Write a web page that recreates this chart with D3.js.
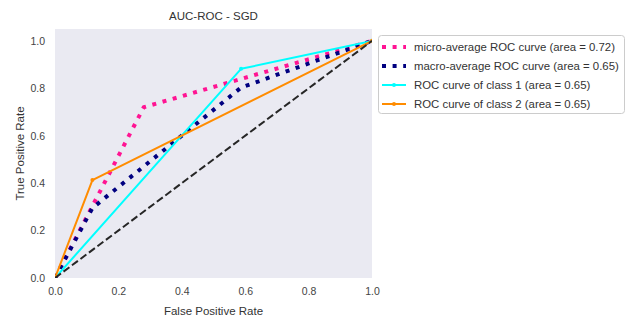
<!DOCTYPE html>
<html>
<head>
<meta charset="utf-8">
<script src="https://cdn.jsdelivr.net/npm/d3@7/dist/d3.min.js"></script>
<style>
  html, body { margin: 0; padding: 0; background: #fff; }
  svg { display: block; font-family: "Liberation Sans", Arial, sans-serif; }
</style>
</head>
<body>
<svg id="chart" width="627" height="321"></svg>
<script>
// ROC curve points (false positive rate, true positive rate)
const microFpr = [0, 0.28, 1];
const microTpr = [0, 0.72, 1];
const macroFpr = [0, 0.118, 0.587, 1];
const macroTpr = [0, 0.295, 0.803, 1];
const class1Fpr = [0, 0.587, 1];
const class1Tpr = [0, 0.882, 1];
const class2Fpr = [0, 0.118, 1];
const class2Tpr = [0, 0.413, 1];
const chanceFpr = [0, 1];
const chanceTpr = [0, 1];

const legendLabels = [
  "micro-average ROC curve (area = 0.72)",
  "macro-average ROC curve (area = 0.65)",
  "ROC curve of class 1 (area = 0.65)",
  "ROC curve of class 2 (area = 0.65)"
];
const xTicks = [0, 0.2, 0.4, 0.6, 0.8, 1.0];
const yTicks = [0, 0.2, 0.4, 0.6, 0.8, 1.0];

const svg = d3.select("#chart");
const plot = { left: 55, right: 372, top: 29, bottom: 278 };

const x = d3.scaleLinear().domain([0, 1]).range([plot.left, plot.right]);
const y = d3.scaleLinear().domain([0, 1.05]).range([plot.bottom, plot.top]);

// axes background
svg.append("rect")
  .attr("x", plot.left).attr("y", plot.top)
  .attr("width", plot.right - plot.left)
  .attr("height", plot.bottom - plot.top)
  .attr("fill", "#EAEAF2");

svg.append("defs").append("clipPath").attr("id", "clip")
  .append("rect")
  .attr("x", plot.left).attr("y", plot.top)
  .attr("width", plot.right - plot.left)
  .attr("height", plot.bottom - plot.top);

// tick labels (no tick marks)
const xAxis = svg.append("g")
  .attr("transform", `translate(0,${plot.bottom})`)
  .call(d3.axisBottom(x).tickValues(xTicks).tickFormat(d3.format(".1f")).tickSize(0).tickPadding(10));
const yAxis = svg.append("g")
  .attr("transform", `translate(${plot.left},0)`)
  .call(d3.axisLeft(y).tickValues(yTicks).tickFormat(d3.format(".1f")).tickSize(0).tickPadding(10));
[xAxis, yAxis].forEach(a => {
  a.select(".domain").remove();
  a.selectAll("text").attr("font-size", 10.5).attr("fill", "#444")
    .attr("font-family", "Liberation Sans, Arial, sans-serif");
});

// titles
svg.append("text")
  .attr("x", (plot.left + plot.right) / 2).attr("y", 20)
  .attr("text-anchor", "middle").attr("font-size", 11.5).attr("fill", "#333")
  .text("AUC-ROC - SGD");
svg.append("text")
  .attr("x", (plot.left + plot.right) / 2).attr("y", 315)
  .attr("text-anchor", "middle").attr("font-size", 11.5).attr("fill", "#333")
  .text("False Positive Rate");
svg.append("text")
  .attr("transform", `translate(24,${(plot.top + plot.bottom) / 2}) rotate(-90)`)
  .attr("text-anchor", "middle").attr("font-size", 11.5).attr("fill", "#333")
  .text("True Positive Rate");

const line = d3.line().x(d => x(d[0])).y(d => y(d[1]));
const zip = (a, b) => a.map((v, i) => [v, b[i]]);

const series = [
  { pts: zip(microFpr, microTpr), color: "#FF1493", width: 4, dash: "4,6.6", marker: false },
  { pts: zip(macroFpr, macroTpr), color: "#000080", width: 4, dash: "4,6.6", marker: false },
  { pts: zip(class1Fpr, class1Tpr), color: "#00FFFF", width: 2, dash: null, marker: true },
  { pts: zip(class2Fpr, class2Tpr), color: "#FF8C00", width: 2, dash: null, marker: true }
];

const g = svg.append("g").attr("clip-path", "url(#clip)");
series.forEach(s => {
  g.append("path")
    .attr("d", line(s.pts))
    .attr("fill", "none")
    .attr("stroke", s.color)
    .attr("stroke-width", s.width)
    .attr("stroke-dasharray", s.dash)
    .attr("stroke-linejoin", "round");
  if (s.marker) {
    g.selectAll(null).data(s.pts).enter().append("circle")
      .attr("cx", d => x(d[0])).attr("cy", d => y(d[1]))
      .attr("r", 2).attr("fill", s.color);
  }
});

// chance diagonal
g.append("path")
  .attr("d", line(zip(chanceFpr, chanceTpr)))
  .attr("fill", "none").attr("stroke", "#262626")
  .attr("stroke-width", 2).attr("stroke-dasharray", "7.4,3.2");

// legend
const lg = svg.append("g");
lg.append("rect")
  .attr("x", 378.5).attr("y", 35.5).attr("width", 246).attr("height", 78)
  .attr("rx", 3).attr("fill", "#fff").attr("fill-opacity", 0.8)
  .attr("stroke", "#ccc");
series.forEach((s, i) => {
  const cy = 47 + i * 19;
  lg.append("line")
    .attr("x1", 382).attr("x2", 406).attr("y1", cy).attr("y2", cy)
    .attr("stroke", s.color).attr("stroke-width", s.width)
    .attr("stroke-dasharray", s.dash);
  if (s.marker) {
    lg.append("circle").attr("cx", 394).attr("cy", cy).attr("r", 2).attr("fill", s.color);
  }
  lg.append("text")
    .attr("x", 414).attr("y", cy).attr("dy", "0.35em")
    .attr("font-size", 11.4).attr("fill", "#333")
    .text(legendLabels[i]);
});
</script>
</body>
</html>
